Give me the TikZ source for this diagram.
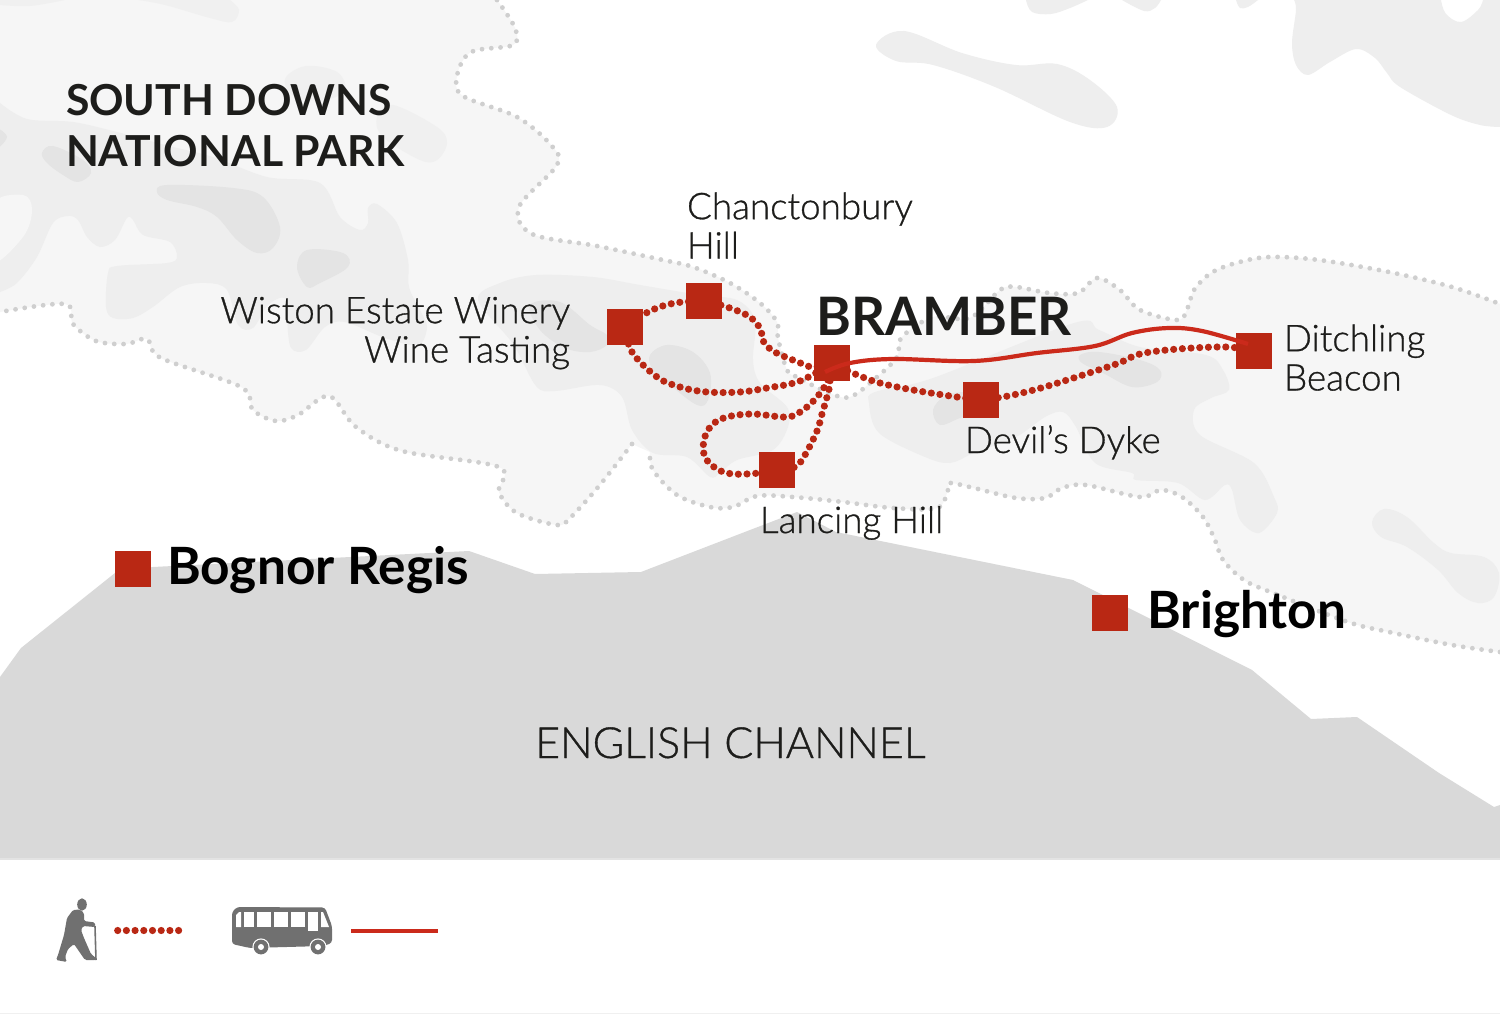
\documentclass[tikz,border=0pt]{standalone}
\usepackage{fontspec}
\setmainfont{Lato}
\newfontfamily\latolight[FakeBold=0.8]{Lato Light}
\definecolor{parkfill}{HTML}{F6F6F6}
\definecolor{midfill}{HTML}{EEEEEE}
\definecolor{darkfill}{HTML}{E4E4E4}
\definecolor{seafill}{HTML}{D9D9D9}
\definecolor{edgedots}{HTML}{CFCFCF}
\definecolor{stopred}{HTML}{B92814}
\definecolor{busred}{HTML}{CB2A1B}
\definecolor{ink}{HTML}{1D1D1B}
\definecolor{icongrey}{HTML}{707070}
\definecolor{F0}{HTML}{F0F0F0}
\definecolor{E3}{HTML}{E3E3E3}
\pgfdeclarelayer{mapbg}\pgfdeclarelayer{routes}\pgfdeclarelayer{top}
\pgfsetlayers{mapbg,routes,main,top}
\tikzset{
 stop/.style={fill=stopred,draw=none,minimum size=36pt,inner sep=0pt,outer sep=0pt},
 walkline/.style={draw=stopred,line width=7.2pt,line cap=round,dash pattern=on 0pt off 8.7pt},
 busline/.style={draw=busred,line width=4.2pt},
 edgeline/.style={draw=edgedots,line width=4.8pt,line cap=round,dash pattern=on 0pt off 9.3pt},
 place/.style={inner sep=0pt,outer sep=0pt,text=ink,font=\fontsize{36.8}{39.3}\selectfont\latolight},
 bigplace/.style={inner sep=0pt,outer sep=0pt,text=black,font=\fontsize{51.4}{56}\selectfont\bfseries},
 title/.style={inner sep=0pt,outer sep=0pt,text=ink,font=\fontsize{42.7}{51.5}\selectfont\bfseries},
 mid/.style={fill=midfill,draw=none},
 dark/.style={fill=darkfill,draw=none},
 soft/.style={fill=F0,draw=none},
}
\newcommand\parkshape[3]{%
 \fill[parkfill] plot[smooth,tension=.55] coordinates {#1} -- (1500,304) -- plot[smooth,tension=.55] coordinates {#2} -- plot[smooth,tension=.55] coordinates {#3} -- (0,0) -- cycle;
 \draw[edgeline] plot[smooth,tension=.55] coordinates {#1};
 \draw[edgeline] plot[smooth,tension=.55] coordinates {#2};
 \draw[edgeline] plot[smooth,tension=.55] coordinates {#3};
}
\newcommand\blob[2]{\fill[#1] plot[smooth cycle,tension=.6] coordinates {#2};}
\begin{document}
\begin{tikzpicture}[x=1pt,y=-1pt]
\useasboundingbox (0,0) rectangle (1500,1014);
\begin{pgfonlayer}{mapbg}
\fill[white] (0,0) rectangle (1500,1014);
% --- national park
\parkshape{(497,0) (515,28) (513,45) (471,52) (457,76) (463,96) (517,117) (551,145) (557,165) (519,207) (532,234) (597,246) (663,260) (693,267) (730,283) (760,303) (777,322) (778,338) (787,370) (797,377) (827,392) (850,397) (877,377) (897,357) (902,337) (933,317) (970,318) (1000,290) (1016,287) (1049,293) (1078,293) (1097,278) (1120,290) (1140,310) (1178,320) (1188,307) (1194,290) (1211,273) (1236,263) (1269,257) (1319,260) (1389,272) (1452,287) (1500,304)}
{(1500,652) (1452,645) (1389,632) (1348,622) (1273,593) (1244,580) (1223,560) (1215,540) (1203,517) (1182,497) (1161,490) (1140,497) (1086,485) (1062,488) (1045,498) (1016,498) (974,488) (950,483) (948,490) (937,508) (893,508) (843,502) (793,497) (757,496) (733,507) (710,507) (677,495) (653,470) (650,452)}
{(632,444) (599,486) (570,518) (557,525) (517,513) (499,492) (499,467) (402,451) (356,427) (329,396) (298,415) (276,421) (253,410) (241,387) (161,358) (147,339) (126,344) (96,341) (73,324) (65,304) (0,312)}
% --- relief, left part
\fill[mid] plot[smooth,tension=.55] coordinates {(0,103) (27,119) (73,122) (117,132) (165,145) (213,157) (267,177) (320,183) (340,217) (360,230) (368,223) (368,208) (377,204) (397,223) (408,260) (409,287) (420,310) (427,327) (418,345) (385,338) (345,322) (325,327) (306,350) (291,348) (287,320) (285,298) (268,305) (253,328) (238,325) (227,290) (207,283) (180,287) (153,307) (133,318) (113,318) (106,307) (108,273) (117,266) (167,263) (177,257) (170,242) (143,235) (133,220) (127,218) (115,240) (100,247) (87,237) (78,220) (68,216) (53,223) (37,257) (17,283) (0,292)} -- cycle;
\blob{parkfill}{(-8,205) (23,195) (32,210) (23,237) (-8,262)}
\blob{dark}{(157,192) (167,185) (233,188) (263,197) (280,227) (273,248) (257,253) (237,240) (217,217) (197,207) (167,200)}
\blob{dark}{(297,267) (307,250) (343,253) (348,267) (320,283) (307,287)}
\blob{dark}{(42,153) (53,146) (83,160) (91,173) (78,182) (63,175) (47,163)}
\blob{dark}{(-6,128) (7,137) (-6,150)}
\blob{soft}{(285,79) (306,66) (337,72) (345,90) (325,100) (295,97)}
\blob{soft}{(377,117) (393,105) (437,127) (447,143) (437,160) (420,160) (383,137)}
\fill[soft] plot[smooth,tension=.6] coordinates {(0,5) (30,6) (65,0)} -- (0,0) -- cycle;
\fill[soft] plot[smooth,tension=.6] coordinates {(138,0) (165,5) (210,18) (232,22) (239,10) (230,0)} -- cycle;
% --- relief, centre
\fill[mid] plot[smooth cycle,tension=.55] coordinates {(478,300) (500,283) (536,275) (593,277) (640,285) (700,295) (737,300) (755,320) (753,360) (760,383) (787,407) (788,427) (773,450) (737,460) (720,473) (710,477) (687,457) (653,453) (632,430) (622,397) (600,385) (555,391) (536,386) (513,344)};
\blob{dark}{(530,305) (560,302) (590,325) (607,335) (607,345) (590,352) (565,348) (540,330)}
\blob{dark}{(650,355) (667,345) (693,352) (710,373) (708,400) (697,405) (670,385) (653,370)}
% --- relief, right
\fill[mid] plot[smooth cycle,tension=.55] coordinates {(869,403) (875,392) (933,378) (1074,323) (1099,330) (1140,347) (1206,355) (1223,370) (1229,390) (1211,398) (1194,410) (1200,435) (1254,463) (1274,497) (1277,513) (1259,533) (1240,520) (1232,490) (1225,485) (1205,500) (1178,483) (1136,480) (1132,473) (1095,463) (1076,427) (1063,412) (1045,417) (1016,437) (974,453) (950,463) (925,457) (879,433)};
\blob{dark}{(933,410) (945,396) (965,392) (990,395) (985,410) (960,418) (940,425)}
\blob{dark}{(1080,355) (1099,352) (1140,360) (1160,370) (1157,382) (1132,387) (1103,373) (1082,363)}
\blob{mid}{(1372,522) (1384,509) (1407,517) (1434,543) (1451,553) (1484,557) (1499,573) (1494,597) (1478,603) (1458,593) (1438,570) (1407,547) (1381,537)}
% --- relief outside the park, top right
\blob{mid}{(876,45) (904,31) (962,53) (1016,65) (1057,64) (1090,80) (1117,107) (1107,127) (1070,122) (995,87) (933,65) (896,61)}
\fill[mid] plot[smooth,tension=.6] coordinates {(1026,0) (1032,12) (1051,14) (1070,8) (1088,0)} -- cycle;
\fill[mid] plot[smooth,tension=.6] coordinates {(1122,0) (1144,11) (1155,8) (1161,0)} -- cycle;
\fill[mid] plot[smooth,tension=.6] coordinates {(1236,0) (1240,8) (1248,7) (1258,0)} -- cycle;
\fill[mid] plot[smooth,tension=.55] coordinates {(1294,0) (1296,10) (1292,43) (1296,65) (1308,75) (1330,62) (1356,49) (1375,58) (1387,73) (1400,87) (1451,115) (1480,125) (1500,127)} -- (1500,0) -- (1483,0) -- plot[smooth,tension=.6] coordinates {(1483,0) (1478,10) (1461,22) (1446,14) (1441,0)} -- cycle;
% --- sea
\fill[seafill] (0,677) -- (21,648) -- (115,573) -- (153,567) -- (469,551) -- (535,574) -- (641,572) -- (750,530) -- (797,512) -- (836,532) -- (1073,580) -- (1252,670) -- (1311,719) -- (1357,717) -- (1439,773) -- (1494,807) -- (1500,805) -- (1500,859) -- (0,859) -- cycle;
\draw[draw=E3,line width=2pt] (0,859) -- (1500,859);
\draw[draw=F0,line width=1pt] (0,1013.5) -- (1500,1013.5);
\end{pgfonlayer}

% --- stops
\node[stop] (wiston) at (625,327) {};
\node[stop] (chanct) at (704,301) {};
\node[stop] (bramber) at (832,363) {};
\node[stop] (lancing) at (777,470) {};
\node[stop] (devil) at (981,400) {};
\node[stop] (ditch) at (1253.5,351) {};
\node[stop] (brighton) at (1110,613) {};
\node[stop] (bognor) at (133,569) {};
\coordinate (busstart) at (825,372);
\coordinate (busend) at (1248,344);

% --- walking routes
\begin{pgfonlayer}{routes}
\draw[walkline] plot[smooth,tension=.6] coordinates {(wiston.center) (650,311) (675,303) (chanct.center)};
\draw[walkline] plot[smooth,tension=.6] coordinates {(chanct.center) (727,307) (750,317) (761,330) (762,339) (773,351) (798,362) (813,367) (bramber.center)};
\draw[walkline] plot[smooth,tension=.6] coordinates {(wiston.center) (632,352) (657,377) (680,387) (707,392) (740,392) (767,388) (800,381) (bramber.center)};
\draw[walkline] plot[smooth,tension=.6] coordinates {(bramber.center) (855,374) (880,383) (913,390) (957,397) (devil.center)};
\draw[walkline] plot[smooth,tension=.6] coordinates {(devil.center) (1008,396) (1041,388) (1086,374) (1119,363) (1140,354) (1178,349) (1227,347) (ditch.center)};
\draw[walkline] plot[smooth,tension=.6] coordinates {(bramber.center) (827,382) (817,397) (803,410) (787,417) (753,414) (727,417) (712,425) (704,440) (705,457) (717,469) (733,474) (760,473) (lancing.center)};
\draw[walkline] plot[smooth,tension=.6] coordinates {(lancing.center) (795,467) (805,455) (817,431) (822,414) (827,397) (829,389) (bramber.center)};
\end{pgfonlayer}
% --- bus route
\begin{pgfonlayer}{top}
\draw[busline] plot[smooth,tension=.6] coordinates {(busstart) (850,363) (893,359) (974,361) (1037,353) (1095,346) (1132,333) (1169,328) (1202,331) (busend)};
\end{pgfonlayer}

% --- labels
\node[title,anchor=base west,align=left] (parkname) at (66,167) {SOUTH DOWNS\\NATIONAL PARK};
\node[place,anchor=base west,align=left] (chantxt) at (687,258.5) {Chanctonbury\\Hill};
\node[place,anchor=base east,align=right] (wistxt) at (570,362.5) {Wiston Estate Winery\\Wine Tasting};
\node[inner sep=0pt,text=ink,anchor=base west,font=\fontsize{53}{58}\selectfont\bfseries] (bramtxt) at (816,335.5) {BRAMBER};
\node[place,anchor=base west] (deviltxt) at (965,453) {Devil’s Dyke};
\node[place,anchor=base west] (lantxt) at (760,533) {Lancing Hill};
\node[place,anchor=base west,align=left] (ditchtxt) at (1284,390.5) {Ditchling\\Beacon};
\node[bigplace,anchor=base west] (bogtxt) at (167,584) {Bognor Regis};
\node[bigplace,anchor=base west] (brtxt) at (1147.5,628) {Brighton};
\node[inner sep=0pt,text=ink,anchor=base west,font=\fontsize{43}{50}\selectfont\latolight] (seatxt) at (535,758) {ENGLISH CHANNEL};

% --- legend
\coordinate (walkA) at (117.7,930.5);
\coordinate (walkB) at (180,930.5);
\coordinate (busA) at (351,931);
\coordinate (busB) at (438,931);
\draw[walkline] (walkA) -- (walkB);
\draw[busline] (busA) -- (busB);
% walker
\fill[icongrey] (82,904.5) ellipse [x radius=4.8pt,y radius=6.2pt];
\fill[icongrey,rounded corners=1.5pt] (73,910) -- (80,909.5) -- (84,913) -- (84,921) -- (95,922.5) -- (95,927) -- (83,926) -- (81,930) -- (84,938) -- (91,954) -- (96,958) -- (96,960) -- (85,960) -- (74,944) -- (68,949) -- (65,957) -- (67,962) -- (56,960) -- (58,955) -- (64,935) -- (67,918) -- cycle;
\draw[icongrey,line width=1.6pt] (95,926) -- (96,960);
% bus
\fill[icongrey,rounded corners=3pt] (232,944) -- (232,912) -- (237,907) -- (325,907.5) -- (332,926) -- (332,943) -- (323,946) -- (250,948) -- cycle;
\fill[white] (236,915) -- (239,912) -- (241,912) -- (241,927) -- (236,927) -- cycle;
\fill[white] (244,912) rectangle (254,927);
\fill[white] (257,912) rectangle (271,927);
\fill[white] (274,912) rectangle (288,927);
\fill[white] (291,912) rectangle (305,927);
\fill[white] (308,912) rectangle (318,931);
\fill[white] (321,912) -- (323,912) -- (329,927) -- (321,927) -- cycle;
\foreach \wx in {261,318}{
 \fill[white] (\wx,947) circle [radius=8.6pt];
 \fill[icongrey] (\wx,947) circle [radius=7.4pt];
 \fill[white] (\wx,947) circle [radius=3pt];
}
\end{tikzpicture}
\end{document}
